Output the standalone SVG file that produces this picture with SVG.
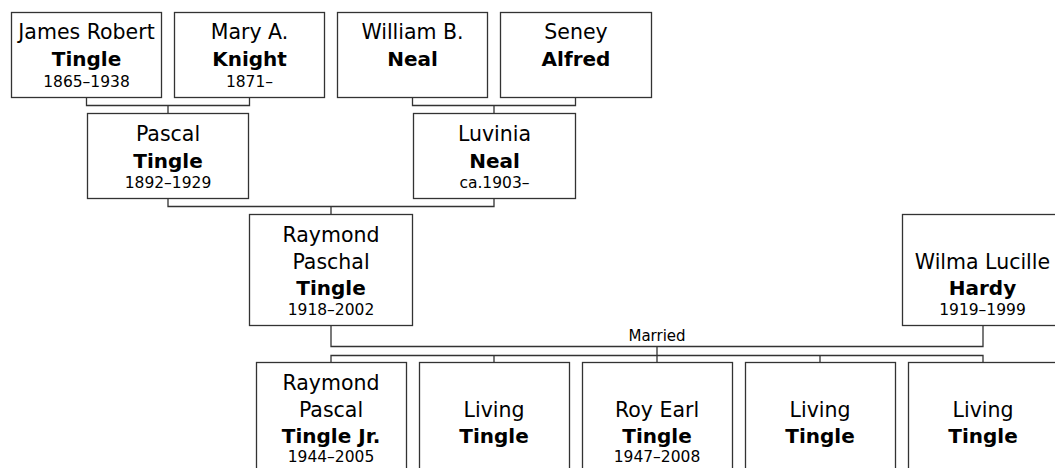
<svg xmlns="http://www.w3.org/2000/svg" width="1055" height="468" viewBox="0 0 1055 468">
<style>
.box{fill:#fff;stroke:#333;stroke-width:1.3}
.con{fill:none;stroke:#333;stroke-width:1.3}
text{font-family:"DejaVu Sans","Liberation Sans",sans-serif;fill:#000;text-anchor:middle}
.n{font-size:20.5px}
.b{font-size:20px;font-weight:bold}
.d{font-size:15.5px}
.m{font-size:15px}
</style>
<rect width="1055" height="468" fill="#fff"/>
<g id="connectors">
<path class="con" d="M86.5,97.5V105.5H249.5V97.5M168,105.5V113"/>
<path class="con" d="M412.5,97.5V105.5H575.5V97.5M494,105.5V113"/>
<path class="con" d="M168,198.5V206.5H494V198.5M331,206.5V214"/>
<path class="con" d="M331,325.5V346.5H983V325.5M657,346.5V355.5"/>
<path class="con" d="M331,362V355.5H983V362M494,355.5V362M657,355.5V362M820,355.5V362"/>
<text class="m" x="657" y="341">Married</text>
</g>
<g id="james"><rect class="box" x="11.5" y="12.5" width="150" height="85"/>
<text class="n" x="86.5" y="39">James Robert</text><text class="b" x="86.5" y="65.5">Tingle</text><text class="d" x="86.5" y="87">1865–1938</text></g>
<g id="mary"><rect class="box" x="174.5" y="12.5" width="150" height="85"/>
<text class="n" x="249.5" y="39">Mary A.</text><text class="b" x="249.5" y="65.5">Knight</text><text class="d" x="249.5" y="87">1871–</text></g>
<g id="william"><rect class="box" x="337.5" y="12.5" width="150" height="85"/>
<text class="n" x="412.5" y="39">William B.</text><text class="b" x="412.5" y="65.5">Neal</text></g>
<g id="seney"><rect class="box" x="500.5" y="12.5" width="151" height="85"/>
<text class="n" x="576" y="39">Seney</text><text class="b" x="576" y="65.5">Alfred</text></g>
<g id="pascal"><rect class="box" x="87.5" y="113.5" width="161" height="85"/>
<text class="n" x="168" y="141">Pascal</text><text class="b" x="168" y="167.5">Tingle</text><text class="d" x="168" y="187.5">1892–1929</text></g>
<g id="luvinia"><rect class="box" x="413.5" y="113.5" width="162" height="85"/>
<text class="n" x="494.5" y="141">Luvinia</text><text class="b" x="494.5" y="167.5">Neal</text><text class="d" x="494.5" y="187.5">ca.1903–</text></g>
<g id="raymond"><rect class="box" x="249.5" y="214.5" width="163" height="111"/>
<text class="n" x="331" y="242">Raymond</text><text class="n" x="331" y="268.5">Paschal</text><text class="b" x="331" y="295">Tingle</text><text class="d" x="331" y="315">1918–2002</text></g>
<g id="wilma"><rect class="box" x="902.5" y="214.5" width="162" height="111"/>
<text class="n" x="982.5" y="268.5">Wilma Lucille</text><text class="b" x="982.5" y="295">Hardy</text><text class="d" x="982.5" y="315">1919–1999</text></g>
<g id="child1"><rect class="box" x="256.5" y="362.5" width="150" height="120"/>
<text class="n" x="331" y="390">Raymond</text><text class="n" x="331" y="416.5">Pascal</text><text class="b" x="331" y="443">Tingle Jr.</text><text class="d" x="331" y="461.5">1944–2005</text></g>
<g id="child2"><rect class="box" x="419.5" y="362.5" width="150" height="120"/>
<text class="n" x="494" y="416.5">Living</text><text class="b" x="494" y="443">Tingle</text></g>
<g id="child3"><rect class="box" x="582.5" y="362.5" width="150" height="120"/>
<text class="n" x="657" y="416.5">Roy Earl</text><text class="b" x="657" y="443">Tingle</text><text class="d" x="657" y="461.5">1947–2008</text></g>
<g id="child4"><rect class="box" x="745.5" y="362.5" width="150" height="120"/>
<text class="n" x="820" y="416.5">Living</text><text class="b" x="820" y="443">Tingle</text></g>
<g id="child5"><rect class="box" x="908.5" y="362.5" width="150" height="120"/>
<text class="n" x="983" y="416.5">Living</text><text class="b" x="983" y="443">Tingle</text></g>
</svg>
